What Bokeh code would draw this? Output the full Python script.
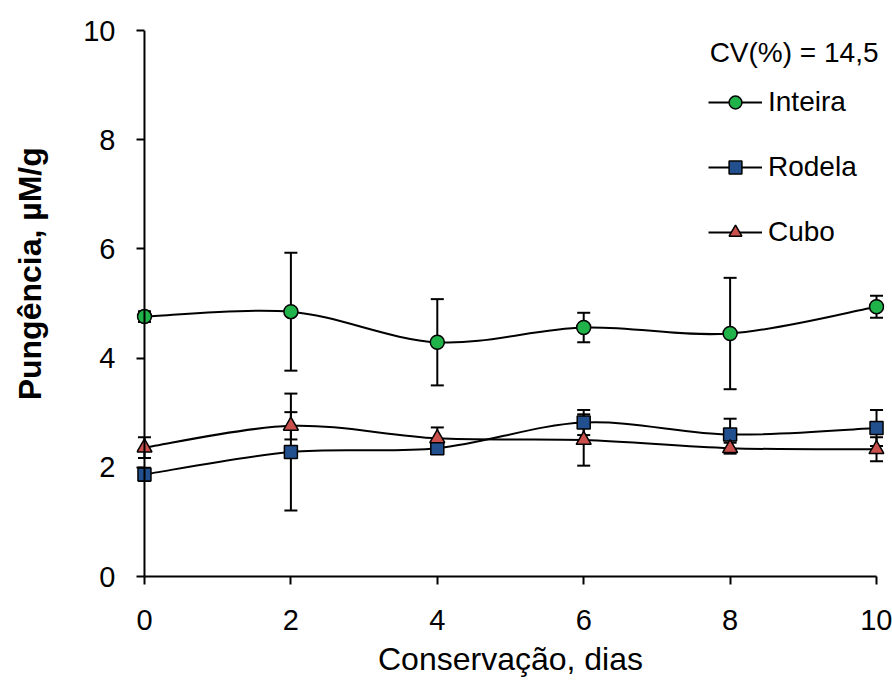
import math
from bokeh.plotting import figure
from bokeh.layouts import row
from bokeh.models import (ColumnDataSource, Whisker, TeeHead, Legend, LegendItem,
                          Label, FixedTicker, Span)
from bokeh.core.properties import value
from bokeh.embed import file_html
from bokeh.resources import INLINE

# ---------------- data ----------------
days = [0, 2, 4, 6, 8, 10]
inteira = [4.76, 4.85, 4.29, 4.56, 4.45, 4.94]
inteira_err = [0.10, 1.08, 0.79, 0.27, 1.02, 0.20]
rodela = [1.87, 2.28, 2.35, 2.82, 2.60, 2.72]
rodela_err = [0.12, 1.07, 0.10, 0.23, 0.29, 0.33]
cubo = [2.36, 2.76, 2.53, 2.50, 2.35, 2.33]
cubo_err = [0.19, 0.25, 0.20, 0.47, 0.10, 0.22]
series_names = ["Inteira", "Rodela", "Cubo"]
x_ticks = [0, 2, 4, 6, 8, 10]
y_ticks = [0, 2, 4, 6, 8, 10]
cv_text = "CV(%) = 14,5"
x_title = "Conservação, dias"
y_title = "Pungência, µM/g"

FONT = "Liberation Sans"
TITLE_W = 56

# ---------- narrow strip holding the y-axis title ----------
pt = figure(width=TITLE_W, height=680, x_range=(0, TITLE_W), y_range=(0, 680),
            output_backend="svg", toolbar_location=None, min_border=0)
pt.axis.visible = False
pt.grid.grid_line_color = None
pt.outline_line_color = None
pt.text(x=[29], y=[377], text=[y_title], angle=math.pi / 2,
        text_align="center", text_baseline="alphabetic",
        text_font=value(FONT), text_font_size=value("32px"),
        text_font_style="bold", text_color="black")

# ---------- main chart ----------
p = figure(width=892 - TITLE_W, height=680, x_range=(-0.109, 10.109), y_range=(0, 10),
           output_backend="svg", toolbar_location=None,
           min_border_left=136 - TITLE_W, min_border_right=8,
           min_border_top=30, min_border_bottom=104)
p.outline_line_color = None
p.xgrid.grid_line_color = None
p.ygrid.grid_line_color = None
p.background_fill_color = "white"
p.border_fill_color = "white"


def smooth_segments(xs, ys):
    """Bezier control points (Catmull-Rom, as in spreadsheet smoothed lines)."""
    n = len(xs)
    d = dict(x0=[], y0=[], x1=[], y1=[], cx0=[], cy0=[], cx1=[], cy1=[])
    for i in range(n - 1):
        xa, ya = xs[max(i - 1, 0)], ys[max(i - 1, 0)]
        xb, yb = xs[i], ys[i]
        xc, yc = xs[i + 1], ys[i + 1]
        xd, yd = xs[min(i + 2, n - 1)], ys[min(i + 2, n - 1)]
        d["x0"].append(xb); d["y0"].append(yb)
        d["x1"].append(xc); d["y1"].append(yc)
        d["cx0"].append(xb + (xc - xa) / 6.0); d["cy0"].append(yb + (yc - ya) / 6.0)
        d["cx1"].append(xc - (xd - xb) / 6.0); d["cy1"].append(yc - (yd - yb) / 6.0)
    return d


styles = [
    (inteira, inteira_err, "circle", "#1fb34a", 14),
    (rodela, rodela_err, "square", "#22508f", 13),
    (cubo, cubo_err, "triangle", "#c9504c", 15),
]

# y axis line at x = 0
p.add_layout(Span(location=0, dimension="height", line_color="black", line_width=2))

# error bars
for vals, errs, _, _, _ in styles:
    src = ColumnDataSource(dict(x=days,
                                upper=[v + e for v, e in zip(vals, errs)],
                                lower=[v - e for v, e in zip(vals, errs)]))
    w = Whisker(source=src, base="x", upper="upper", lower="lower",
                line_color="black", line_width=2,
                upper_head=TeeHead(size=13, line_color="black", line_width=2),
                lower_head=TeeHead(size=13, line_color="black", line_width=2))
    p.add_layout(w)

# smoothed lines
for vals, _, _, _, _ in styles:
    p.bezier(source=ColumnDataSource(smooth_segments(days, vals)),
             x0="x0", y0="y0", x1="x1", y1="y1",
             cx0="cx0", cy0="cy0", cx1="cx1", cy1="cy1",
             line_color="black", line_width=2)

items = []
for name, (vals, _, marker, color, size) in zip(series_names, styles):
    sc = p.scatter(days, vals, marker=marker, size=size, fill_color=color,
                   line_color="black", line_width=1.5)
    leg_line = p.line(x=[float("nan")], y=[float("nan")], line_color="black", line_width=2)
    items.append(LegendItem(label=name, renderers=[leg_line, sc]))

legend = Legend(items=items, location=(572, 328), glyph_width=54, glyph_height=32,
                label_height=32, spacing=33, padding=0, margin=0,
                border_line_color=None, background_fill_alpha=0,
                label_text_font=FONT, label_text_font_size="28px",
                label_text_color="black", label_standoff=6)
p.add_layout(legend)

# axes
for ax in (p.xaxis[0], p.yaxis[0]):
    ax.major_tick_line_color = "black"
    ax.major_tick_line_width = 2
    ax.minor_tick_line_color = None
    ax.major_label_text_font = FONT
    ax.major_label_text_font_size = "29px"
    ax.major_label_text_color = "black"

p.xaxis.ticker = FixedTicker(ticks=x_ticks)
p.xaxis.bounds = (0, 10)
p.xaxis.axis_line_color = "black"
p.xaxis.axis_line_width = 2
p.xaxis.major_tick_out = 8
p.xaxis.major_tick_in = 0
p.xaxis.major_label_standoff = 25
p.xaxis.axis_label = x_title
p.xaxis.axis_label_text_font = FONT
p.xaxis.axis_label_text_font_size = "32px"
p.xaxis.axis_label_text_font_style = "normal"
p.xaxis.axis_label_text_color = "black"
p.xaxis.axis_label_standoff = 8

p.yaxis.ticker = FixedTicker(ticks=y_ticks)
p.yaxis.axis_line_color = None
p.yaxis.major_tick_out = 0
p.yaxis.major_tick_in = 8
p.yaxis.major_label_standoff = 21

p.add_layout(Label(x=742, y=524, x_units="screen", y_units="screen",
                   text=cv_text, text_align="right", text_baseline="alphabetic",
                   text_font=FONT, text_font_size="28px", text_color="black"))

layout = row(pt, p)
open("out.html", "w").write(file_html(layout, INLINE))
